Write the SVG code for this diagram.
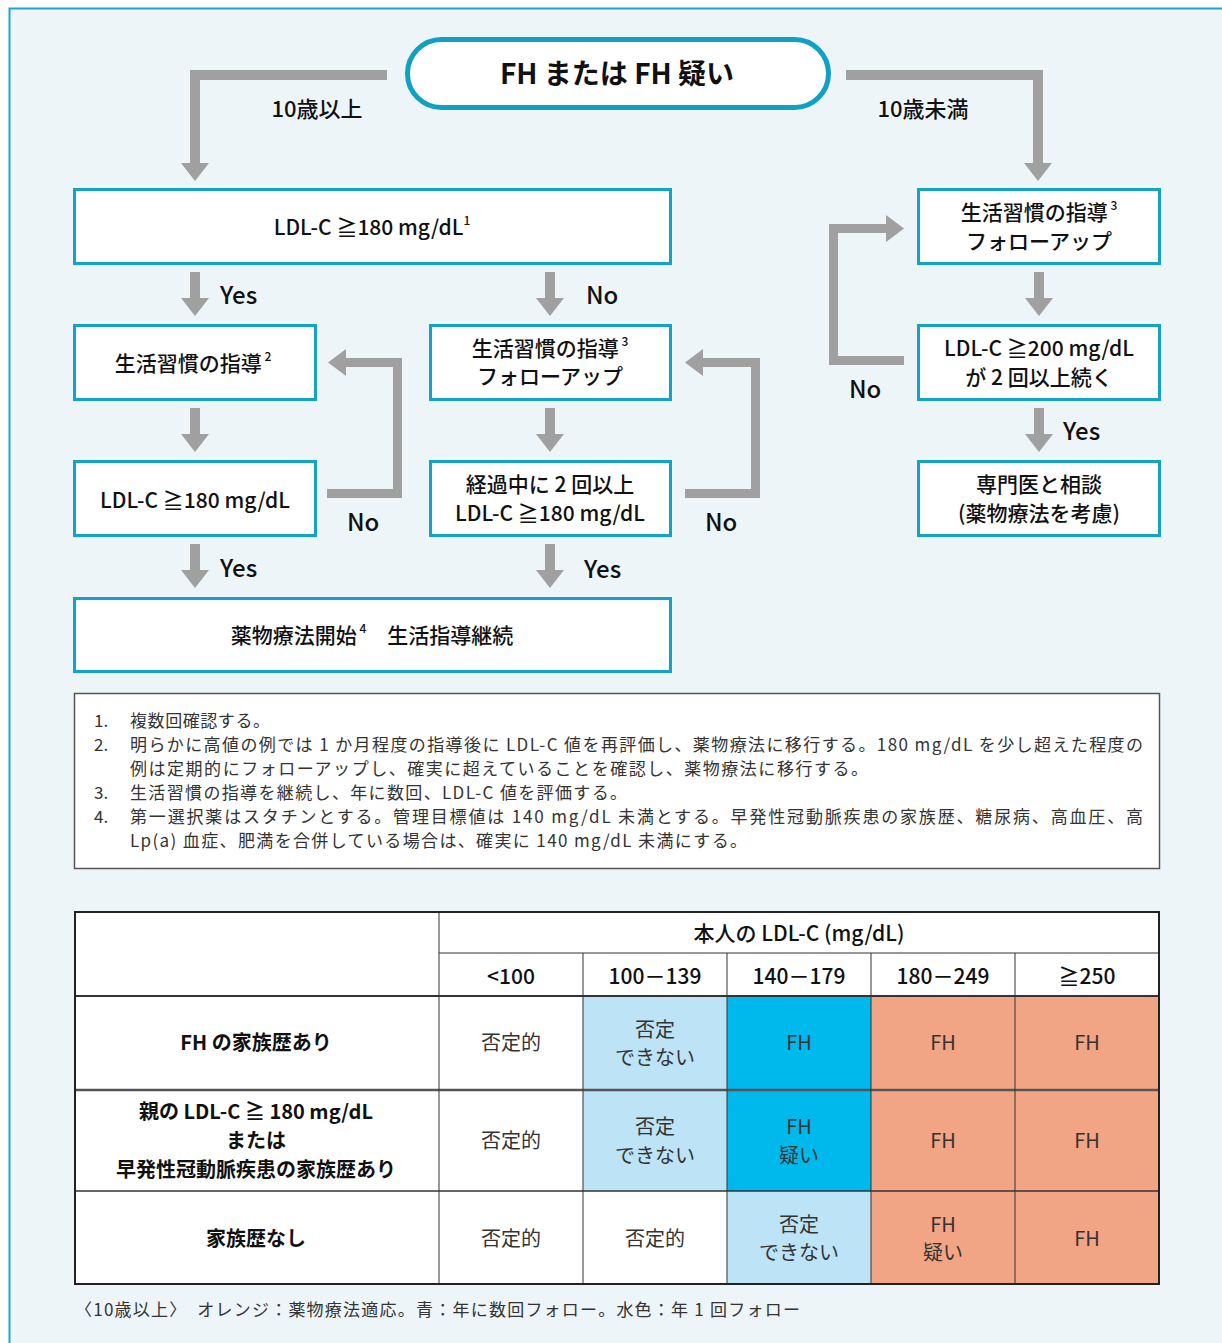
<svg xmlns="http://www.w3.org/2000/svg" width="1222" height="1343" viewBox="0 0 1222 1343">
<style>
text{font-family:"Noto Sans CJK JP","Noto Sans",sans-serif;fill:#111}
.box{fill:#fff;stroke:#12A3C6;stroke-width:3}
.fc{font-size:21px;font-weight:500;text-anchor:middle}
.lbl{font-size:24px;font-weight:500}
.sup{font-size:12px;font-weight:500}
.arr{fill:#A0A0A0}
.note{font-size:17px;fill:#333}
.cell{font-size:20px;text-anchor:middle;fill:#333}
.rowl{font-size:20px;font-weight:700;text-anchor:middle}
.hdr{font-size:21px;font-weight:500;text-anchor:middle}
.tl{stroke:#333;stroke-width:1}
</style>
<rect x="0" y="0" width="1222" height="1343" fill="#fff"/>
<rect x="9.5" y="8.5" width="1240" height="1400" fill="#EDF5F9" stroke="#1AA7C9" stroke-width="2"/>

<g id="connectors">
<polygon class="arr" points="387,70 387,80 200,80 200,163 209,163 195,181 181,163 190,163 190,70"/>
<polygon class="arr" points="846,70 1043,70 1043,163 1052,163 1038,181 1024,163 1033,163 1033,80 846,80"/>
<polygon class="arr" points="190,272 200,272 200,298 209,298 195,316 181,298 190,298"/>
<polygon class="arr" points="545,272 555,272 555,298 564,298 550,316 536,298 545,298"/>
<polygon class="arr" points="190,408 200,408 200,434 209,434 195,452 181,434 190,434"/>
<polygon class="arr" points="545,408 555,408 555,434 564,434 550,452 536,434 545,434"/>
<polygon class="arr" points="190,544 200,544 200,570 209,570 195,588 181,570 190,570"/>
<polygon class="arr" points="545,544 555,544 555,570 564,570 550,588 536,570 545,570"/>
<polygon class="arr" points="1034,272 1044,272 1044,298 1053,298 1039,316 1025,298 1034,298"/>
<polygon class="arr" points="1034,408 1044,408 1044,434 1053,434 1039,452 1025,434 1034,434"/>
<polygon class="arr" points="327,489 393,489 393,367 346,367 346,376 328,362.5 346,349 346,358 402,358 402,498 327,498"/>
<polygon class="arr" points="685,489 751,489 751,367 703,367 703,376 685,362.5 703,349 703,358 760,358 760,498 685,498"/>
<polygon class="arr" points="904,356 904,365 829,365 829,224 886,224 886,215 904,228.5 886,242 886,233 838,233 838,356"/>
<text class="fc" x="317" y="117" style="font-size:22px">10歳以上</text>
<text class="fc" x="923" y="117" style="font-size:22px">10歳未満</text>
<text class="lbl" x="220" y="304">Yes</text>
<text class="lbl" x="586" y="304">No</text>
<text class="lbl" x="347" y="531">No</text>
<text class="lbl" x="705" y="531">No</text>
<text class="lbl" x="220" y="577">Yes</text>
<text class="lbl" x="584" y="578">Yes</text>
<text class="lbl" x="849" y="398">No</text>
<text class="lbl" x="1063" y="440">Yes</text>
</g>

<g id="start">
<rect x="407.5" y="39.5" width="421" height="68" rx="34" fill="#fff" stroke="#0FA0C4" stroke-width="5"/>
<text x="617" y="84" text-anchor="middle" style="font-size:28px;font-weight:700">FH または FH 疑い</text>
</g>

<g id="n-ldl180-1">
<rect class="box" x="74.5" y="189.5" width="596" height="74"/>
<text class="fc" x="372" y="235">LDL-C ≧180 mg/dL<tspan class="sup" dy="-10">1</tspan></text>
</g>

<g id="n-lifestyle2">
<rect class="box" x="74.5" y="325.5" width="241" height="74"/>
<text class="fc" x="193" y="371">生活習慣の指導<tspan class="sup" dy="-10"> 2</tspan></text>
</g>

<g id="n-lifestyle3-mid">
<rect class="box" x="430.5" y="325.5" width="240" height="74"/>
<text class="fc" x="550" y="356">生活習慣の指導<tspan class="sup" dy="-10"> 3</tspan></text>
<text class="fc" x="550" y="384">フォローアップ</text>
</g>

<g id="n-ldl180-2">
<rect class="box" x="74.5" y="461.5" width="241" height="74"/>
<text class="fc" x="195" y="508">LDL-C ≧180 mg/dL</text>
</g>

<g id="n-twice180">
<rect class="box" x="430.5" y="461.5" width="240" height="74"/>
<text class="fc" x="550" y="492">経過中に 2 回以上</text>
<text class="fc" x="550" y="521">LDL-C ≧180 mg/dL</text>
</g>

<g id="n-drug">
<rect class="box" x="74.5" y="598.5" width="596" height="73"/>
<text class="fc" x="372" y="643">薬物療法開始<tspan class="sup" dy="-10"> 4</tspan><tspan dy="10">　生活指導継続</tspan></text>
</g>

<g id="n-lifestyle3-right">
<rect class="box" x="918.5" y="189.5" width="241" height="74"/>
<text class="fc" x="1039" y="220">生活習慣の指導<tspan class="sup" dy="-10"> 3</tspan></text>
<text class="fc" x="1039" y="249">フォローアップ</text>
</g>

<g id="n-ldl200">
<rect class="box" x="918.5" y="325.5" width="241" height="74"/>
<text class="fc" x="1039" y="356">LDL-C ≧200 mg/dL</text>
<text class="fc" x="1039" y="385">が 2 回以上続く</text>
</g>

<g id="n-specialist">
<rect class="box" x="918.5" y="461.5" width="241" height="74"/>
<text class="fc" x="1039" y="492">専門医と相談</text>
<text class="fc" x="1039" y="521">(薬物療法を考慮)</text>
</g>

<g id="notes">
<rect x="74.5" y="693.5" width="1085" height="175" fill="#fff" stroke="#555" stroke-width="1.5"/>
<text class="note" x="94" y="727">1.</text><text class="note" x="130" y="727" textLength="140" lengthAdjust="spacing">複数回確認する。</text>
<text class="note" x="94" y="751">2.</text><text class="note" x="130" y="751" textLength="1013" lengthAdjust="spacing">明らかに高値の例では 1 か月程度の指導後に LDL-C 値を再評価し、薬物療法に移行する。180 mg/dL を少し超えた程度の</text>
<text class="note" x="130" y="775" textLength="738" lengthAdjust="spacing">例は定期的にフォローアップし、確実に超えていることを確認し、薬物療法に移行する。</text>
<text class="note" x="94" y="799">3.</text><text class="note" x="130" y="799" textLength="497" lengthAdjust="spacing">生活習慣の指導を継続し、年に数回、LDL-C 値を評価する。</text>
<text class="note" x="94" y="823">4.</text><text class="note" x="130" y="823" textLength="1013" lengthAdjust="spacing">第一選択薬はスタチンとする。管理目標値は 140 mg/dL 未満とする。早発性冠動脈疾患の家族歴、糖尿病、高血圧、高</text>
<text class="note" x="130" y="847" textLength="617" lengthAdjust="spacing">Lp(a) 血症、肥満を合併している場合は、確実に 140 mg/dL 未満にする。</text>
</g>

<g id="table">
<rect x="74" y="911" width="1086" height="374" fill="#fff"/>
<rect x="583" y="996" width="144" height="94" fill="#BDE3F7"/>
<rect x="727" y="996" width="144" height="94" fill="#00B9EC"/>
<rect x="871" y="996" width="288" height="94" fill="#F2A585"/>
<rect x="583" y="1090" width="144" height="101" fill="#BDE3F7"/>
<rect x="727" y="1090" width="144" height="101" fill="#00B9EC"/>
<rect x="871" y="1090" width="288" height="101" fill="#F2A585"/>
<rect x="727" y="1191" width="144" height="94" fill="#BDE3F7"/>
<rect x="871" y="1191" width="288" height="94" fill="#F2A585"/>
<line class="tl" x1="439" y1="953" x2="1160" y2="953"/>
<line class="tl" x1="74" y1="996" x2="1160" y2="996" style="stroke-width:2"/>
<line class="tl" x1="74" y1="1090" x2="1160" y2="1090" style="stroke:#555;stroke-width:2.5"/>
<line class="tl" x1="74" y1="1191" x2="1160" y2="1191" style="stroke-width:1.5"/>
<line class="tl" x1="439" y1="911" x2="439" y2="1285"/>
<line class="tl" x1="583" y1="953" x2="583" y2="1285"/>
<line class="tl" x1="727" y1="953" x2="727" y2="1285"/>
<line class="tl" x1="871" y1="953" x2="871" y2="1285"/>
<line class="tl" x1="1015" y1="953" x2="1015" y2="1285"/>
<rect x="75" y="912" width="1084" height="372" fill="none" stroke="#222" stroke-width="2"/>
<text class="hdr" x="799" y="941">本人の LDL-C (mg/dL)</text>
<text class="hdr" x="511" y="984">&lt;100</text>
<text class="hdr" x="655" y="984">100－139</text>
<text class="hdr" x="799" y="984">140－179</text>
<text class="hdr" x="943" y="984">180－249</text>
<text class="hdr" x="1087" y="984">≧250</text>
<text class="rowl" x="256" y="1050">FH の家族歴あり</text>
<text class="rowl" x="256" y="1119">親の LDL-C ≧ 180 mg/dL</text>
<text class="rowl" x="256" y="1148">または</text>
<text class="rowl" x="256" y="1177">早発性冠動脈疾患の家族歴あり</text>
<text class="rowl" x="256" y="1246">家族歴なし</text>
<text class="cell" x="511" y="1050">否定的</text>
<text class="cell" x="655" y="1037">否定</text><text class="cell" x="655" y="1065">できない</text>
<text class="cell" x="799" y="1050">FH</text>
<text class="cell" x="943" y="1050">FH</text>
<text class="cell" x="1087" y="1050">FH</text>
<text class="cell" x="511" y="1148">否定的</text>
<text class="cell" x="655" y="1134">否定</text><text class="cell" x="655" y="1163">できない</text>
<text class="cell" x="799" y="1134">FH</text><text class="cell" x="799" y="1163">疑い</text>
<text class="cell" x="943" y="1148">FH</text>
<text class="cell" x="1087" y="1148">FH</text>
<text class="cell" x="511" y="1246">否定的</text>
<text class="cell" x="655" y="1246">否定的</text>
<text class="cell" x="799" y="1232">否定</text><text class="cell" x="799" y="1260">できない</text>
<text class="cell" x="943" y="1232">FH</text><text class="cell" x="943" y="1260">疑い</text>
<text class="cell" x="1087" y="1246">FH</text>
</g>

<text class="note" x="75" y="1316" textLength="725" lengthAdjust="spacing">〈10歳以上〉　オレンジ：薬物療法適応。青：年に数回フォロー。水色：年 1 回フォロー</text>
</svg>
